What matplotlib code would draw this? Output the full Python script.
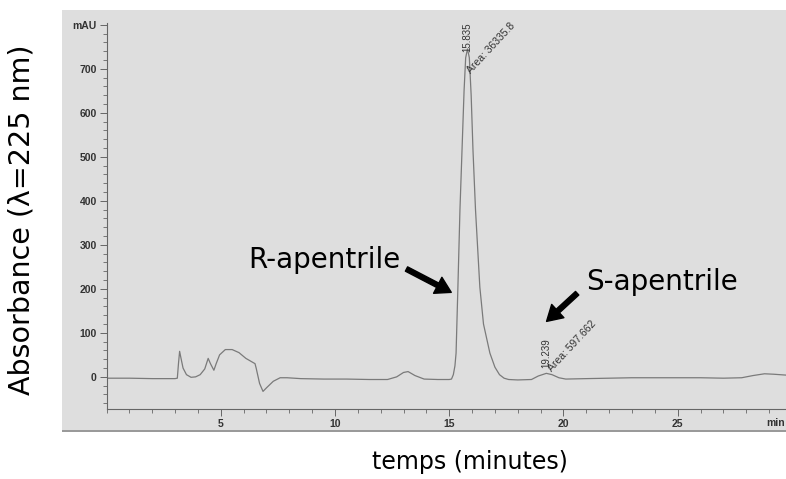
import numpy as np
import matplotlib
matplotlib.use('Agg')
import matplotlib.pyplot as plt
from matplotlib.patches import Rectangle
from matplotlib.ticker import MultipleLocator

# chromatogram trace (minutes, mAU)
time_min = [0.0, 1.0, 2.0, 3.0, 3.1, 3.15, 3.2, 3.25, 3.35, 3.5, 3.7, 3.9,
            4.1, 4.3, 4.45, 4.55, 4.7, 4.8, 4.95, 5.2, 5.5, 5.8, 6.1, 6.5,
            6.55, 6.7, 6.85, 7.0, 7.3, 7.6, 7.9, 8.5, 9.5, 10.5, 11.5, 12.3,
            12.7, 13.0, 13.2, 13.5, 13.9, 14.5, 15.0, 15.1, 15.18, 15.25, 15.3,
            15.38, 15.47, 15.56, 15.65, 15.72, 15.8, 15.88, 15.96, 16.04, 16.15,
            16.34, 16.5, 16.78, 17.0, 17.2, 17.4, 17.6, 18.0, 18.6, 18.9, 19.25,
            19.5, 19.8, 20.1, 21.0, 22.0, 23.0, 24.0, 25.0, 26.0, 27.0, 27.8,
            28.3, 28.8, 29.2, 29.74]
absorb = [-3, -3, -4, -4, -3, 30, 58, 45, 20, 5, -1, 0,
          5, 18, 42, 30, 15, 30, 50, 62, 62, 55, 42, 30,
          20, -15, -33, -25, -10, -2, -2, -4, -5, -5, -6, -6,
          0, 10, 12, 3, -5, -6, -6, -5, 5, 25, 54,
          204, 380, 515, 650, 725, 745, 725, 640, 515, 380,
          204, 120, 54, 22, 5, -3, -6, -7, -6, 2, 8,
          5, -2, -5, -4, -3, -2, -2, -2, -2, -3, -2,
          3, 7, 6, 4]

peak_rt = ['15.835', '19.239']
peak_area = ['Area: 36335.8', 'Area: 597.662']
peak_pos = [(15.8, 745), (19.25, 8)]

fig = plt.figure(figsize=(7.86, 4.79), dpi=100)
W, H = 786, 479

# scanned paper background
fig.add_artist(Rectangle((62 / W, 1 - 432 / H), 1 - 62 / W, 422 / H,
                         transform=fig.transFigure, facecolor='#dedede',
                         edgecolor='none', zorder=0))
fig.add_artist(Rectangle((62 / W, 1 - 432 / H), 1 - 62 / W, 2.5 / H,
                         transform=fig.transFigure, facecolor='#9a9a9a',
                         edgecolor='none', zorder=0))

ax = fig.add_axes([106.5 / W, 1 - 409 / H, 1 - 106.5 / W, (409 - 22.5) / H])
ax.patch.set_alpha(0)
ax.plot(time_min, absorb, color='#7a7a7a', lw=0.9)
ax.set_xlim(0, 29.74)
ax.set_ylim(-73, 805)

for s in ['top', 'right']:
    ax.spines[s].set_visible(False)
for s in ['left', 'bottom']:
    ax.spines[s].set_color('#666666')
    ax.spines[s].set_linewidth(0.8)

ax.set_xticks([5, 10, 15, 20, 25])
ax.xaxis.set_minor_locator(MultipleLocator(1))
ax.set_yticks([0, 100, 200, 300, 400, 500, 600, 700, 800])
ax.set_yticklabels(['0', '100', '200', '300', '400', '500', '600', '700', 'mAU'])
ax.yaxis.set_minor_locator(MultipleLocator(20))
ax.tick_params(which='major', length=5, width=0.7, color='#666666',
               labelsize=7.5, labelcolor='#333333', pad=2)
ax.tick_params(which='minor', length=3, width=0.6, color='#666666')
for lab in ax.get_xticklabels() + ax.get_yticklabels():
    lab.set_family('Liberation Sans')
    lab.set_fontweight('bold')
fig.text(785 / W, 1 - 423 / H, 'min', fontsize=7.5, family='Liberation Sans',
         fontweight='bold', color='#333333', ha='right', va='center')

# peak labels from the integrator
ax.text(15.8, 738, peak_rt[0], rotation=90, fontsize=7, family='Liberation Sans',
        color='#333333', ha='center', va='bottom')
ax.text(16.0, 686, peak_area[0], rotation=47, fontsize=7.5,
        family='Liberation Sans', color='#333333', ha='left', va='bottom',
        rotation_mode='anchor')
ax.text(19.25, 20, peak_rt[1], rotation=90, fontsize=7, family='Liberation Sans',
        color='#333333', ha='center', va='bottom')
ax.text(19.55, 8, peak_area[1], rotation=47, fontsize=7.5,
        family='Liberation Sans', color='#333333', ha='left', va='bottom',
        rotation_mode='anchor')

# enantiomer annotations
ax.annotate('', xy=(15.09, 192), xytext=(13.13, 245),
            arrowprops=dict(facecolor='black', edgecolor='black', width=3.5,
                            headwidth=13, headlength=11, shrink=0))
ax.annotate('', xy=(19.26, 126), xytext=(20.6, 190),
            arrowprops=dict(facecolor='black', edgecolor='black', width=3.5,
                            headwidth=13, headlength=11, shrink=0))
ax.text(6.22, 265, 'R-apentrile', fontsize=20, family='DejaVu Sans',
        ha='left', va='center')
ax.text(21.0, 215, 'S-apentrile', fontsize=20, family='DejaVu Sans',
        ha='left', va='center')

fig.text(470 / W, 1 - 462 / H, 'temps (minutes)', fontsize=17,
         family='DejaVu Sans', ha='center', va='center')
fig.text(22 / W, 1 - 220 / H, 'Absorbance (\u03bb=225 nm)', fontsize=20.5,
         family='DejaVu Sans', ha='center', va='center', rotation=90)

fig.savefig('out.png', dpi=100)
